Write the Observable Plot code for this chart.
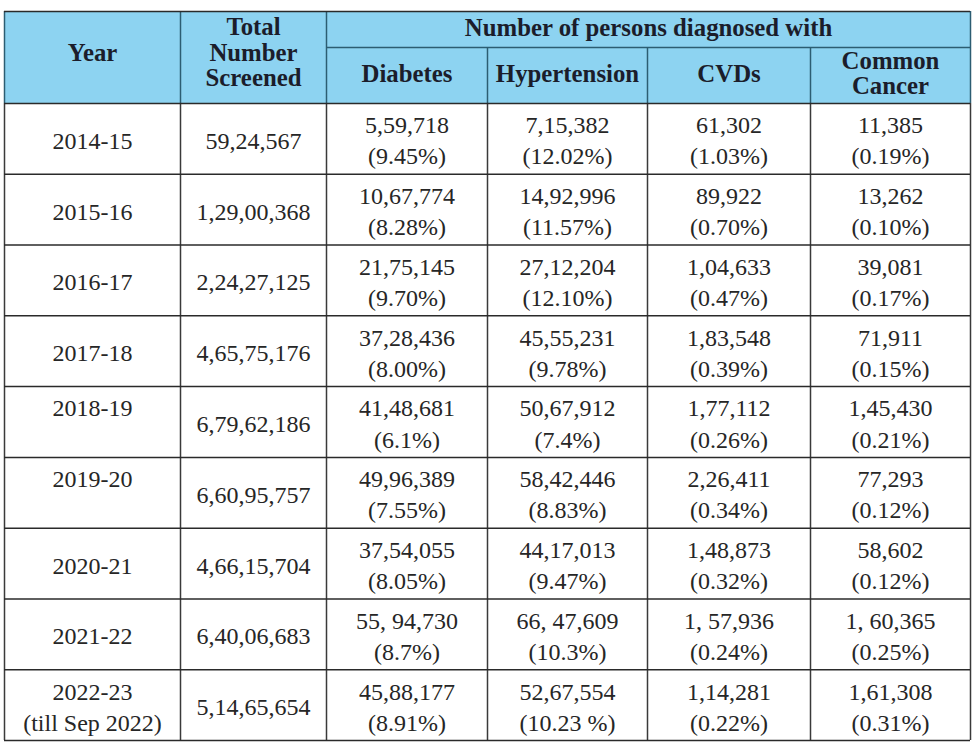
<!DOCTYPE html>
<html><head><meta charset="utf-8">
<script src="https://cdn.jsdelivr.net/npm/d3@7"></script>
<script src="https://cdn.jsdelivr.net/npm/@observablehq/plot@0.6"></script>
<style>body{margin:0;background:#fff} svg{display:block} svg text{font-family:"Liberation Serif","Times New Roman",Times,serif !important}</style>
</head><body><div id="chart"></div>
<script>
// ---- data ----
const yearLabels = ["2014-15","2015-16","2016-17","2017-18","2018-19\n","2019-20\n","2020-21","2021-22","2022-23\n(till Sep 2022)"];
const totalScreened = ["59,24,567","1,29,00,368","2,24,27,125","4,65,75,176","6,79,62,186","6,60,95,757","4,66,15,704","6,40,06,683","5,14,65,654"];
const diabetes = ["5,59,718","10,67,774","21,75,145","37,28,436","41,48,681","49,96,389","37,54,055","55, 94,730","45,88,177"];
const diabetesPct = ["9.45%","8.28%","9.70%","8.00%","6.1%","7.55%","8.05%","8.7%","8.91%"];
const hypertension = ["7,15,382","14,92,996","27,12,204","45,55,231","50,67,912","58,42,446","44,17,013","66, 47,609","52,67,554"];
const hypertensionPct = ["12.02%","11.57%","12.10%","9.78%","7.4%","8.83%","9.47%","10.3%","10.23 %"];
const cvds = ["61,302","89,922","1,04,633","1,83,548","1,77,112","2,26,411","1,48,873","1, 57,936","1,14,281"];
const cvdsPct = ["1.03%","0.70%","0.47%","0.39%","0.26%","0.34%","0.32%","0.24%","0.22%"];
const cancer = ["11,385","13,262","39,081","71,911","1,45,430","77,293","58,602","1, 60,365","1,61,308"];
const cancerPct = ["0.19%","0.10%","0.17%","0.15%","0.21%","0.12%","0.12%","0.25%","0.31%"];
const groupHeader = "Number of persons diagnosed with";
const columnHeaders = ["Year","Total\nNumber\nScreened","Diabetes","Hypertension","CVDs","Common\nCancer"];

// ---- layout ----
const colWidths = [176,146,161,160,163,160];
const edges = [0];
colWidths.forEach(w => edges.push(edges[edges.length-1] + w));
const totalW = edges[edges.length-1];
const nRows = yearLabels.length;
const headTop = -1.3, subLine = -0.79;
const font = "Liberation Serif";

const body = [];
yearLabels.forEach((lab, i) => {
  const cells = [
    lab,
    totalScreened[i],
    `${diabetes[i]}\n(${diabetesPct[i]})`,
    `${hypertension[i]}\n(${hypertensionPct[i]})`,
    `${cvds[i]}\n(${cvdsPct[i]})`,
    `${cancer[i]}\n(${cancerPct[i]})`
  ];
  cells.forEach((t, c) => body.push({x: (edges[c] + edges[c+1]) / 2, y: i + 0.5, text: t}));
});

const headCells = columnHeaders.map((t, c) => ({
  x: (edges[c] + edges[c+1]) / 2,
  y: c < 2 ? headTop / 2 - 0.07 : subLine / 2 - 0.03,
  text: t
}));
headCells.push({x: (edges[2] + edges[6]) / 2, y: (headTop + subLine) / 2 - 0.02, text: groupHeader});

const hRules = [{y: headTop, x1: 0, x2: totalW}, ...d3.range(0, nRows + 1).map(r => ({y: r, x1: 0, x2: totalW}))];
const vBody = edges.map(e => ({x: e, y1: 0, y2: nRows}));
const vHead = [
  ...[0,1,2,6].map(c => ({x: edges[c], y1: headTop, y2: 0})),
  ...[3,4,5].map(c => ({x: edges[c], y1: subLine, y2: 0}))
];

const chart = Plot.plot({
  width: 977, height: 749,
  margin: 0,
  x: {type: "linear", domain: [0, totalW], range: [4, 970], axis: null},
  y: {type: "linear", domain: [headTop, nRows], range: [11, 740], axis: null},
  style: {background: "#fff"},
  marks: [
    Plot.rect([{x1: 0, x2: totalW, y1: headTop, y2: 0}], {x1: "x1", x2: "x2", y1: "y1", y2: "y2", fill: "#8dd3f1"}),
    Plot.ruleY([{y: subLine, x1: edges[2], x2: totalW}], {y: "y", x1: "x1", x2: "x2", stroke: "#2c5d72", strokeWidth: 1.5}),
    Plot.ruleX(vHead, {x: "x", y1: "y1", y2: "y2", stroke: "#2c5d72", strokeWidth: 1.5}),
    Plot.ruleX(vBody, {x: "x", y1: "y1", y2: "y2", stroke: "#3a3a3a", strokeWidth: 1.5}),
    Plot.ruleY(hRules, {y: "y", x1: "x1", x2: "x2", stroke: "#2a2a2a", strokeWidth: 1.5}),
    Plot.text(headCells, {x: "x", y: "y", text: "text", fontFamily: font, fontSize: 24.8, fontWeight: "bold", fill: "#1b1d2b", lineHeight: 1.02, lineAnchor: "middle"}),
    Plot.text(body, {x: "x", y: "y", text: "text", fontFamily: font, fontSize: 24, fill: "#262626", lineHeight: 1.3, lineAnchor: "middle"})
  ]
});
document.getElementById("chart").append(chart);
</script>
</body></html>
